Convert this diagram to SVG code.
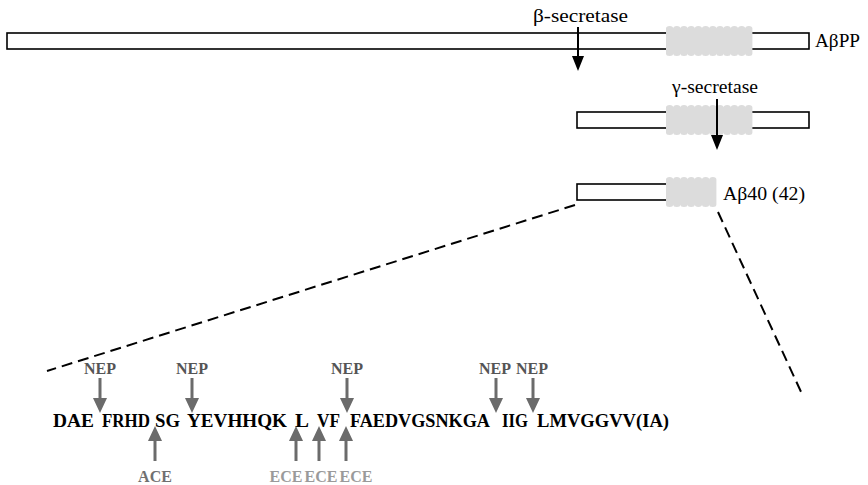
<svg xmlns="http://www.w3.org/2000/svg" xmlns:xlink="http://www.w3.org/1999/xlink" width="868" height="485" viewBox="0 0 868 485">
<style>
text{font-family:"Liberation Serif",serif}
.bar{fill:#fff;stroke:#000;stroke-width:1.6}
.tm{fill:#dcdcdc}
.lbl{font-size:18px;fill:#000}
.big{font-size:19px;fill:#000}
.seq{font-size:19px;font-weight:bold;fill:#000}
.enz{font-size:16px;font-weight:bold;text-anchor:middle}
.nep{fill:#555}
.ace{fill:#707070}
.ece{fill:#9a9a9a}
.blk{stroke:#000;stroke-width:2;fill:none}
.gry{stroke:#6b6b6b;stroke-width:3;fill:none}
.dash{stroke:#000;stroke-width:2;stroke-dasharray:11 6;fill:none}
</style>
<defs>
<path id="tmL" class="tm" d="M0,2.5 a3.6,2.5 0 0 1 7.2,0 a3.6,2.5 0 0 1 7.2,0 a3.6,2.5 0 0 1 7.2,0 a3.6,2.5 0 0 1 7.2,0 a3.6,2.5 0 0 1 7.2,0 a3.6,2.5 0 0 1 7.2,0 a3.6,2.5 0 0 1 7.2,0 a3.6,2.5 0 0 1 7.2,0 a3.6,2.5 0 0 1 7.2,0 a3.6,2.5 0 0 1 7.2,0 a3.6,2.5 0 0 1 7.2,0 a3.6,2.5 0 0 1 7.2,0 L86.4,27.5 a3.6,2.5 0 0 1 -7.2,0 a3.6,2.5 0 0 1 -7.2,0 a3.6,2.5 0 0 1 -7.2,0 a3.6,2.5 0 0 1 -7.2,0 a3.6,2.5 0 0 1 -7.2,0 a3.6,2.5 0 0 1 -7.2,0 a3.6,2.5 0 0 1 -7.2,0 a3.6,2.5 0 0 1 -7.2,0 a3.6,2.5 0 0 1 -7.2,0 a3.6,2.5 0 0 1 -7.2,0 a3.6,2.5 0 0 1 -7.2,0 a3.6,2.5 0 0 1 -7.2,0 Z"/>
<path id="tmS" class="tm" d="M0,2.5 a3.6,2.5 0 0 1 7.2,0 a3.6,2.5 0 0 1 7.2,0 a3.6,2.5 0 0 1 7.2,0 a3.6,2.5 0 0 1 7.2,0 a3.6,2.5 0 0 1 7.2,0 a3.6,2.5 0 0 1 7.2,0 a3.6,2.5 0 0 1 7.2,0 L50.4,27.5 a3.6,2.5 0 0 1 -7.2,0 a3.6,2.5 0 0 1 -7.2,0 a3.6,2.5 0 0 1 -7.2,0 a3.6,2.5 0 0 1 -7.2,0 a3.6,2.5 0 0 1 -7.2,0 a3.6,2.5 0 0 1 -7.2,0 a3.6,2.5 0 0 1 -7.2,0 Z"/>
<polygon id="hdB" points="-6,0 6,0 0,15" fill="#000"/>
<polygon id="hdG" points="-7,0 7,0 0,15" fill="#6b6b6b"/>
</defs>

<g id="abpp">
<rect class="bar" x="7" y="33" width="802" height="16"/>
<use xlink:href="#tmL" x="666" y="26"/>
<text class="big" x="815" y="47" textLength="45" lengthAdjust="spacingAndGlyphs">AβPP</text>
</g>

<g id="c99">
<rect class="bar" x="577" y="112" width="232" height="16"/>
<use xlink:href="#tmL" x="666" y="105"/>
</g>

<g id="abeta">
<rect class="bar" x="577" y="184" width="95" height="16"/>
<use xlink:href="#tmS" x="666" y="177"/>
<text class="big" x="723" y="200" textLength="82" lengthAdjust="spacingAndGlyphs">Aβ40 (42)</text>
</g>

<g id="beta-secretase">
<text class="lbl" x="533" y="22" textLength="95" lengthAdjust="spacingAndGlyphs">β-secretase</text>
</g>
<g id="gamma-secretase">
<text class="lbl" x="672" y="93" textLength="86" lengthAdjust="spacingAndGlyphs">γ-secretase</text>
</g>

<g id="sequence">
<text class="seq" x="53" y="427" textLength="41" lengthAdjust="spacingAndGlyphs">DAE</text>
<text class="seq" x="102" y="427" textLength="48" lengthAdjust="spacingAndGlyphs">FRHD</text>
<text class="seq" x="155" y="427" textLength="25" lengthAdjust="spacingAndGlyphs">SG</text>
<text class="seq" x="187" y="427" textLength="100" lengthAdjust="spacingAndGlyphs">YEVHHQK</text>
<text class="seq" x="295" y="427" textLength="14" lengthAdjust="spacingAndGlyphs">L</text>
<text class="seq" x="317" y="427" textLength="23" lengthAdjust="spacingAndGlyphs">VF</text>
<text class="seq" x="350" y="427" textLength="140" lengthAdjust="spacingAndGlyphs">FAEDVGSNKGA</text>
<text class="seq" x="502" y="427" textLength="26" lengthAdjust="spacingAndGlyphs">IIG</text>
<text class="seq" x="537" y="427" textLength="132" lengthAdjust="spacingAndGlyphs">LMVGGVV(IA)</text>
</g>

<g id="nep-labels">
<text class="enz nep" x="100" y="374">NEP</text>
<text class="enz nep" x="192" y="374">NEP</text>
<text class="enz nep" x="347" y="374">NEP</text>
<text class="enz nep" x="495" y="374">NEP</text>
<text class="enz nep" x="532" y="374">NEP</text>
</g>
<g id="ace-label">
<text class="enz ace" x="155" y="482">ACE</text>
</g>
<g id="ece-labels">
<text class="enz ece" x="286" y="482">ECE</text>
<text class="enz ece" x="321" y="482">ECE</text>
<text class="enz ece" x="356" y="482">ECE</text>
</g>

<g id="connectors">
<line class="dash" x1="575" y1="205" x2="47" y2="371"/>
<line class="dash" x1="718" y1="212" x2="802" y2="394"/>
<line class="blk" x1="578" y1="27" x2="578" y2="57"/>
<use xlink:href="#hdB" x="578" y="56"/>
<line class="blk" x1="717" y1="99" x2="717" y2="136"/>
<use xlink:href="#hdB" x="717" y="135"/>
<g>
<line class="gry" x1="100" y1="378" x2="100" y2="399"/><use xlink:href="#hdG" x="100" y="398"/>
<line class="gry" x1="192" y1="378" x2="192" y2="399"/><use xlink:href="#hdG" x="192" y="398"/>
<line class="gry" x1="347" y1="378" x2="347" y2="399"/><use xlink:href="#hdG" x="347" y="398"/>
<line class="gry" x1="496" y1="378" x2="496" y2="399"/><use xlink:href="#hdG" x="496" y="398"/>
<line class="gry" x1="533" y1="378" x2="533" y2="399"/><use xlink:href="#hdG" x="533" y="398"/>
</g>
<g>
<line class="gry" x1="155" y1="440" x2="155" y2="461"/><use xlink:href="#hdG" transform="translate(155,441) scale(1,-1)"/>
<line class="gry" x1="296" y1="440" x2="296" y2="461"/><use xlink:href="#hdG" transform="translate(296,441) scale(1,-1)"/>
<line class="gry" x1="319" y1="440" x2="319" y2="461"/><use xlink:href="#hdG" transform="translate(319,441) scale(1,-1)"/>
<line class="gry" x1="346" y1="440" x2="346" y2="461"/><use xlink:href="#hdG" transform="translate(346,441) scale(1,-1)"/>
</g>
</g>
</svg>
